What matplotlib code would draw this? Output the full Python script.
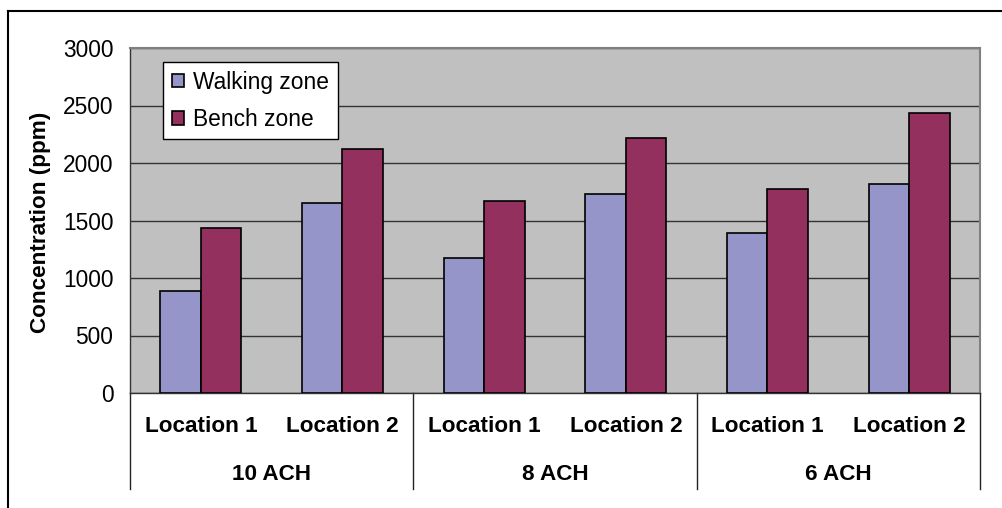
import matplotlib
matplotlib.use("Agg")
import matplotlib.pyplot as plt
from matplotlib.lines import Line2D
from matplotlib.patches import Patch
import matplotlib.transforms as mtransforms
import numpy as np

plt.rcParams['font.family'] = ['Liberation Sans', 'DejaVu Sans']

groups = ["10 ACH", "8 ACH", "6 ACH"]
locations = ["Location 1", "Location 2"]
series_names = ["Walking zone", "Bench zone"]
walking = [887, 1652, 1174, 1730, 1391, 1820]
bench = [1435, 2122, 1670, 2217, 1774, 2432]
yticks = [0, 500, 1000, 1500, 2000, 2500, 3000]

W, H = 1003, 508
fig = plt.figure(figsize=(W / 100, H / 100), dpi=100)
fig.patch.set_facecolor("white")

L, R, T, B = 130, 980, 48, 393
ax = fig.add_axes([L / W, 1 - B / H, (R - L) / W, (B - T) / H])
ax.set_facecolor("#C0C0C0")

n = len(walking)
x = np.arange(n)
bw = 0.286
c_walk = "#9595C9"
c_bench = "#93305E"
ax.bar(x - bw / 2, walking, width=bw, color=c_walk, edgecolor="black", linewidth=1.2, zorder=3)
ax.bar(x + bw / 2, bench, width=bw, color=c_bench, edgecolor="black", linewidth=1.2, zorder=3)

ax.set_xlim(-0.5, n - 0.5)
ax.set_ylim(0, 3000)
ax.set_yticks(yticks)
ax.set_yticklabels([str(v) for v in yticks], fontsize=16.4)
ax.tick_params(axis="y", length=0, pad=12)
ax.set_xticks([])
ax.yaxis.grid(True, color="#333333", linewidth=1.0, zorder=1)
ax.set_axisbelow(True)
for s in ["top", "right"]:
    ax.spines[s].set_color("#808080")
    ax.spines[s].set_linewidth(1.5)
ax.spines["left"].set_color("#333333")
ax.spines["bottom"].set_color("#333333")
ax.spines["left"].set_linewidth(1.0)
ax.spines["bottom"].set_linewidth(1.0)

trans = mtransforms.blended_transform_factory(ax.transData, ax.transAxes)
ph = B - T
sep_bottom = -(489 - B) / ph
for sx in [-0.5, 1.5, 3.5, 5.5]:
    ax.plot([sx, sx], [0, sep_bottom], color="#222222", linewidth=1.0,
            transform=trans, clip_on=False)

loc_y = -(426 - B) / ph
grp_y = -(474 - B) / ph
for i in range(n):
    ax.text(x[i], loc_y, locations[i % 2], transform=trans, ha="center", va="center",
            fontsize=16.2, fontweight="bold")
for g, name in enumerate(groups):
    ax.text(2 * g + 0.5, grp_y, name, transform=trans, ha="center", va="center",
            fontsize=16.2, fontweight="bold")

fig.text(41 / W, 1 - 222 / H, "Concentration (ppm)", rotation=90, ha="center", va="center",
         fontsize=16.2, fontweight="bold")

handles = [Patch(facecolor=c_walk, edgecolor="black", linewidth=1.2),
           Patch(facecolor=c_bench, edgecolor="black", linewidth=1.2)]
leg = ax.legend(handles, series_names, loc="upper left",
                bbox_to_anchor=((163 - L) / (R - L), 1 - (62 - T) / ph),
                fontsize=16.4, frameon=True, fancybox=False, framealpha=1,
                edgecolor="black", handlelength=0.55, handleheight=0.55,
                handletextpad=0.4, labelspacing=0.62, borderpad=0.38,
                borderaxespad=0)
leg.get_frame().set_linewidth(1.0)
leg.set_zorder(5)

fig.add_artist(Line2D([8 / W, 1], [1 - 11 / H, 1 - 11 / H], color="black", linewidth=1.5))
fig.add_artist(Line2D([8 / W, 8 / W], [0, 1 - 11 / H], color="black", linewidth=1.5))

fig.savefig("out.png", dpi=100)
